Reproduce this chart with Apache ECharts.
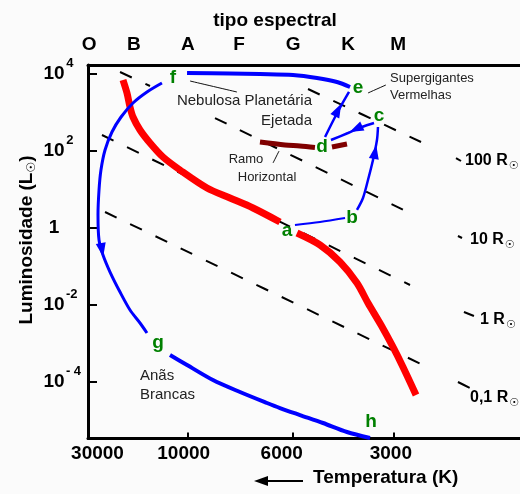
<!DOCTYPE html>
<html><head><meta charset="utf-8">
<script src="https://cdn.jsdelivr.net/npm/echarts@6/dist/echarts.min.js"></script>
<style>html,body{margin:0;padding:0;background:#fbfbfb;}#c{width:520px;height:494px;}</style>
</head><body><div id="c"></div>
<script>
// x: position along temperature axis (1 = 30000 K ... 4 = 3000 K); y: log10(L / Lsun)
const tempLabels = ['30000', '10000', '6000', '3000'];
const tempLabelPos = [1.093, 1.938, 2.899, 3.969];
const tempTickPos = [1.974, 3.003, 4.0];
const spectralTypes = ['O', 'B', 'A', 'F', 'G', 'K', 'M'];
const spectralPos = [1.01, 1.45, 1.98, 2.48, 3.01, 3.55, 4.04];
const lumTickPos = [4, 2, 0, -2, -4];
const lumBase = ['10', '10', '1', '10', '10'];
const lumExp = ['4', '2', '', '-2', '- 4'];

const mainSeqUpper = [[1.343,3.829],[1.382,3.492],[1.412,3.128],[1.441,2.869],[1.510,2.532],[1.608,2.195],[1.735,1.831],[1.902,1.494],[2.167,1.027],[2.392,0.768],[2.618,0.508],[2.882,0.145]];
const mainSeqLower = [[3.049,-0.140],[3.275,-0.451],[3.471,-0.892],[3.637,-1.437],[3.745,-1.956],[3.873,-2.527],[3.990,-3.097],[4.088,-3.616],[4.216,-4.342]];
const horizBranchA = [[2.686,2.220],[2.931,2.143],[3.078,2.117],[3.225,2.078]];
const horizBranchB = [[3.392,2.091],[3.539,2.169]];

const trackAB = [[3.029,0.067],[3.275,0.145],[3.520,0.249]];
const trackBC = [[3.637,0.457],[3.696,0.768],[3.745,1.235],[3.794,1.754],[3.833,2.272],[3.843,2.610]];
const trackCD = [[3.804,2.713],[3.686,2.610],[3.549,2.454],[3.382,2.272]];
const trackDE = [[3.324,2.350],[3.402,2.765],[3.480,3.154],[3.559,3.518]];
const trackEF = [[1.971,4.010],[2.392,4.000],[2.686,3.984],[3.010,3.958],[3.245,3.881],[3.441,3.777],[3.569,3.647]];
const trackFG = [[1.725,3.751],[1.578,3.518],[1.441,3.232],[1.324,2.869],[1.235,2.480],[1.167,2.013],[1.127,1.494],[1.108,0.975],[1.098,0.327],[1.108,-0.322],[1.147,-0.711],[1.216,-1.152],[1.314,-1.671],[1.412,-2.138],[1.510,-2.475],[1.578,-2.734]];
const trackGH = [[1.804,-3.305],[1.971,-3.564],[2.225,-3.954],[2.490,-4.265],[2.755,-4.550],[2.882,-4.680],[3.078,-4.862],[3.304,-5.069],[3.539,-5.303],[3.765,-5.458]];

const radius100 = [[3.157,3.595],[4.265,2.220]];
const radius100Tail = [[4.608,1.805],[4.657,1.728]];
const radius10A = [[1.314,4.036],[1.608,3.673]];
const radius10B = [[2.245,2.842],[4.216,0.301]];
const radius10Tail = [[4.627,-0.218],[4.667,-0.270]];
const radius1 = [[1.137,2.402],[4.157,-1.489]];
const radius1Tail = [[4.686,-2.190],[4.784,-2.293]];
const radius01 = [[1.167,0.405],[4.284,-3.564]];
const radius01Tail = [[4.627,-4.005],[4.745,-4.161]];

const radiusLabels = ['100 R', '10 R', '1 R', '0,1 R'];
const radiusLabelPos = [[4.696,1.728],[4.745,-0.322],[4.843,-2.397],[4.745,-4.420]];

const pointNames = ['a', 'b', 'c', 'd', 'e', 'f', 'g', 'h'];
const pointPos = [[2.951,-0.088],[3.588,0.249],[3.853,2.895],[3.294,2.091],[3.647,3.634],[1.833,3.894],[1.686,-2.993],[3.775,-5.043]];

const arrowPos = [[1.137,-0.581],[3.814,1.961],[3.627,2.558],[3.451,3.051]];
const arrowAngle = [190, 350, 115, 333];

const connNebula = [[2.000,3.803],[2.461,3.517]];
const connSuper = [[3.745,3.492],[3.920,3.699]];
const connRamo = [[2.814,1.676],[2.873,1.987]];

const FONT = '"Liberation Sans", Arial, sans-serif';
const BLUE = '#0000ff', RED = '#ff0000', MAROON = '#800000', GREEN = '#008000';

function lineSeries(data, color, width, dash) {
  return {
    type: 'line', data: data, symbol: 'none', silent: true, animation: false,
    smooth: 0.3,
    lineStyle: { color: color, width: width, type: dash ? [13, 15] : 'solid', cap: 'butt', opacity: 1 },
    z: dash ? 2 : 3
  };
}
function textSeries(data, labelOpt) {
  return {
    type: 'scatter', data: data, symbolSize: 0, silent: true, animation: false, z: 10,
    itemStyle: { color: 'rgba(0,0,0,0)', opacity: 1 },
    label: Object.assign({ show: true, fontFamily: FONT, distance: 0, textBorderWidth: 0, opacity: 1 }, labelOpt)
  };
}
function findIdx(arr, v) {
  for (let i = 0; i < arr.length; i++) if (Math.abs(arr[i] - v) < 1e-6) return i;
  return -1;
}

const series = [];
[radius100, radius100Tail, radius10A, radius10B, radius10Tail, radius1, radius1Tail, radius01, radius01Tail]
  .forEach(d => series.push(lineSeries(d, '#000', 2, true)));
series.push(lineSeries(mainSeqUpper, RED, 7));
series.push(lineSeries(mainSeqLower, RED, 7));
series.push(lineSeries(horizBranchA, MAROON, 5));
series.push(lineSeries(horizBranchB, MAROON, 5));
series.push(lineSeries(trackEF, BLUE, 4));
series.push(lineSeries(trackFG, BLUE, 3));
series.push(lineSeries(trackGH, BLUE, 4));
series.push(lineSeries(trackAB, BLUE, 2));
series.push(lineSeries(trackBC, BLUE, 2.5));
series.push(lineSeries(trackCD, BLUE, 2.5));
series.push(lineSeries(trackDE, BLUE, 2.5));
[connNebula, connSuper, connRamo].forEach(d => series.push(lineSeries(d, '#111', 1)));

series.push({
  type: 'scatter', silent: true, animation: false, z: 5,
  data: arrowPos.map((p, i) => ({ value: p, symbolRotate: arrowAngle[i] })),
  symbol: 'triangle', symbolSize: [10, 14], itemStyle: { color: BLUE, opacity: 1 }
});

series.push(textSeries(pointPos.map((p, i) => ({ value: p, name: pointNames[i] })), {
  position: 'inside', formatter: p => p.name, fontSize: 19, fontWeight: 'bold', color: GREEN
}));

series.push(textSeries([{ value: [3.196, 3.025], name: 'Nebulosa Planetária\nEjetada' }], {
  position: 'left', align: 'right', formatter: p => p.name, fontSize: 15, lineHeight: 20, color: '#222'
}));
series.push(textSeries([{ value: [3.961, 3.660], name: 'Supergigantes\nVermelhas' }], {
  position: 'right', align: 'left', formatter: p => p.name, fontSize: 13, lineHeight: 17, color: '#222'
}));
series.push(textSeries([{ value: [2.549, 1.779], name: 'Ramo' }, { value: [2.755, 1.313], name: 'Horizontal' }], {
  position: 'inside', formatter: p => p.name, fontSize: 13, color: '#222'
}));
series.push(textSeries([{ value: [1.510, -4.096], name: 'Anãs\nBrancas' }], {
  position: 'right', align: 'left', formatter: p => p.name, fontSize: 15, lineHeight: 19, color: '#222'
}));
series.push(textSeries(radiusLabelPos.map((p, i) => ({ value: p, name: radiusLabels[i] })), {
  position: 'right', align: 'left',
  formatter: p => '{r|' + p.name + '}{o|☉}',
  rich: {
    r: { fontFamily: FONT, fontSize: 16, fontWeight: 'bold', color: '#000', lineHeight: 16, verticalAlign: 'middle' },
    o: { fontFamily: 'DejaVu Sans', fontSize: 11, color: '#000', lineHeight: 11, padding: [10, 0, 0, 1], verticalAlign: 'middle' }
  }
}));

const option = {
  backgroundColor: '#fbfbfb',
  animation: false,
  grid: { left: 88, right: -12, top: 65, bottom: 55.5, containLabel: false, outerBoundsMode: 'none' },
  xAxis: [{
    type: 'value', min: 1, max: 5.353, position: 'bottom',
    axisLine: { onZero: false, lineStyle: { color: '#000', width: 3 } },
    axisTick: { inside: true, length: 6, lineStyle: { color: '#000', width: 2 }, customValues: tempTickPos },
    axisLabel: {
      customValues: tempLabelPos, margin: 6, fontFamily: FONT, fontSize: 19, fontWeight: 'bold', color: '#000',
      formatter: v => { const i = findIdx(tempLabelPos, v); return i >= 0 ? tempLabels[i] : ''; }
    },
    splitLine: { show: false }
  }, {
    type: 'value', min: 1, max: 5.353, position: 'top',
    axisLine: { onZero: false, lineStyle: { color: '#000', width: 3 } },
    axisTick: { show: false },
    axisLabel: {
      customValues: spectralPos, margin: 11, fontFamily: FONT, fontSize: 19, fontWeight: 'bold', color: '#000',
      formatter: v => { const i = findIdx(spectralPos, v); return i >= 0 ? spectralTypes[i] : ''; }
    },
    splitLine: { show: false }
  }],
  yAxis: {
    type: 'value', min: -5.471, max: 4.218,
    axisLine: { onZero: false, lineStyle: { color: '#000', width: 3 } },
    axisTick: { inside: true, length: 9, lineStyle: { color: '#000', width: 2 }, customValues: lumTickPos },
    axisLabel: {
      customValues: lumTickPos, margin: 7, align: 'right',
      formatter: v => { const i = findIdx(lumTickPos, v); if (i < 0) return ''; return '{b|' + lumBase[i] + '}{s|' + lumExp[i].padEnd(3, ' ') + '}'; },
      rich: {
        b: { fontFamily: FONT, fontSize: 19, fontWeight: 'bold', color: '#000', width: 24, align: 'right', lineHeight: 20, verticalAlign: 'middle' },
        s: { fontFamily: FONT, fontSize: 13, fontWeight: 'bold', color: '#000', width: 15, align: 'left', lineHeight: 13, padding: [0, 0, 20, 0], verticalAlign: 'middle' }
      }
    },
    splitLine: { show: false }
  },
  graphic: [
    { type: 'text', x: 275, y: 21, style: { text: 'tipo espectral', font: 'bold 19px ' + FONT, fill: '#000', align: 'center', verticalAlign: 'middle' } },
    { type: 'text', x: 313, y: 478, style: { text: 'Temperatura (K)', font: 'bold 19px ' + FONT, fill: '#000', align: 'left', verticalAlign: 'middle' } },
    { type: 'line', shape: { x1: 262, y1: 481, x2: 303, y2: 481 }, style: { stroke: '#000', lineWidth: 2 } },
    { type: 'polygon', shape: { points: [[254, 481], [268, 476], [268, 486]] }, style: { fill: '#000' } },
    { type: 'text', x: 27, y: 240, rotation: Math.PI / 2,
      style: { text: '{a|Luminosidade (L}{o|☉}{a|)}', align: 'center', verticalAlign: 'middle',
        rich: {
          a: { fontFamily: FONT, fontSize: 19, fontWeight: 'bold', fill: '#000', lineHeight: 20, verticalAlign: 'middle' },
          o: { fontFamily: 'DejaVu Sans', fontSize: 12, fill: '#000', lineHeight: 12, padding: [10, 0, 0, 0], verticalAlign: 'middle' }
        } } }
  ],
  series: series
};

const chart = echarts.init(document.getElementById('c'), null, { renderer: 'canvas' });
chart.setOption(option);
</script></body></html>
